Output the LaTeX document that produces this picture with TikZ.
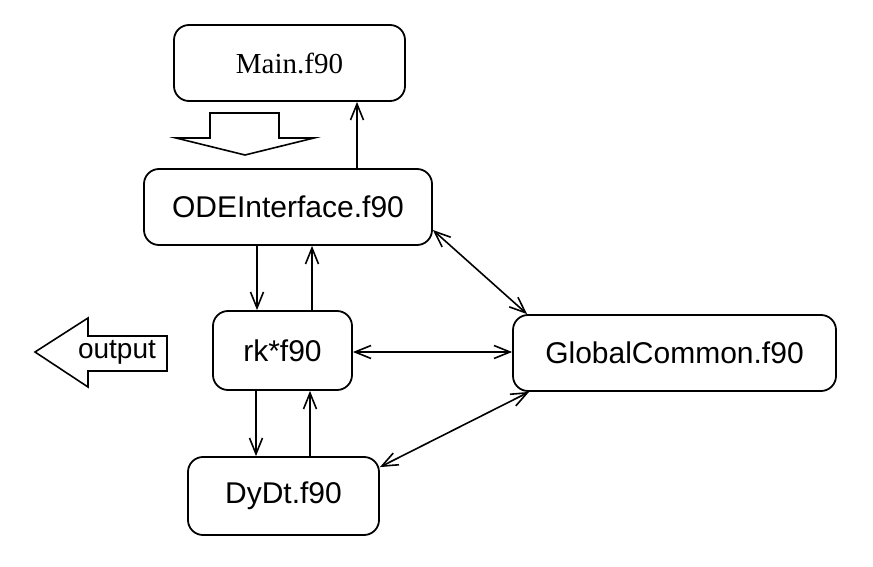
\documentclass[tikz,border=0pt]{standalone}
\usepackage{fontspec}
\setmainfont{Liberation Serif}
\setsansfont{Liberation Sans}
\usetikzlibrary{arrows.meta}
\begin{document}
\begin{tikzpicture}[x=1pt,y=-1pt,
  box/.style={draw,line width=1.8pt,rounded corners=15pt,inner sep=0pt,font=\sffamily\fontsize{30}{32}\selectfont},
  con/.style={line width=1.6pt,arrows={-Straight Barb[length=16pt,width=13pt]}},
  dcon/.style={line width=1.6pt,arrows={Straight Barb[length=16pt,width=13pt]-Straight Barb[length=16pt,width=13pt]}},
  hollow/.style={draw,line width=1.6pt,fill=white,line join=miter}]
\useasboundingbox (0,0) rectangle (873,567);
\node[box,font=\rmfamily\fontsize{29}{32}\selectfont,minimum width=231pt,minimum height=76pt] (main) at (289.5,63) {Main.f90};
\node[box,minimum width=288pt,minimum height=76pt] (ode) at (288,207) {ODEInterface.f90};
\node[box,minimum width=139pt,minimum height=79pt] (rk) at (282.5,350.5) {rk*f90};
\node[box,minimum width=323pt,minimum height=76pt] (glob) at (674.5,353) {GlobalCommon.f90};
\node[box,minimum width=191pt,minimum height=78pt] (dydt) at (283.5,496) {DyDt.f90};
% hollow down arrow
\draw[hollow] (210,113) -- (279,113) -- (279,138) -- (314,138) -- (245,155) -- (176,138) -- (210,138) -- cycle;
% output arrow
\draw[hollow] (35,352) -- (88,318) -- (88,336) -- (167,336) -- (167,371) -- (88,371) -- (88,387) -- cycle;
\node[font=\sffamily\fontsize{28}{30}\selectfont,inner sep=0pt] (out) at (117,352) {output};
% connectors
\coordinate (a1) at ([xshift=69pt]ode.north);
\draw[con] (a1) -- (a1 |- main.south);
\coordinate (a2) at ([xshift=-31pt]ode.south);
\draw[con] (a2) -- (a2 |- rk.north);
\coordinate (a3) at ([xshift=29.5pt]rk.north);
\draw[con] (a3) -- (a3 |- ode.south);
\coordinate (a4) at ([xshift=-26.5pt]rk.south);
\draw[con] (a4) -- (a4 |- dydt.north);
\coordinate (a5) at ([xshift=26.5pt]dydt.north);
\draw[con] (a5) -- (a5 |- rk.south);
\draw[dcon] ([yshift=-23pt]ode.east) -- ([xshift=15pt]glob.north west);
\draw[dcon] ([yshift=-1.5pt]rk.east) -- ([yshift=-1.5pt]rk.east -| glob.west);
\draw[dcon] ([yshift=-11pt]dydt.north east) -- ([xshift=17pt]glob.south west);
\end{tikzpicture}
\end{document}
